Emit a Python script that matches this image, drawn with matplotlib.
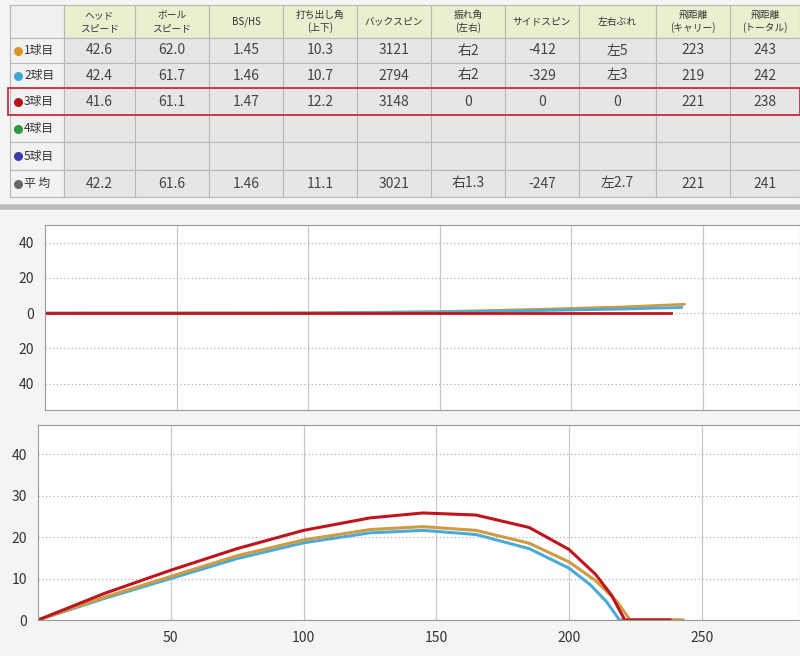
import matplotlib
matplotlib.use("Agg")
import matplotlib.pyplot as plt
from matplotlib.patches import Rectangle

plt.rcParams['font.family'] = ['Noto Sans CJK JP', 'DejaVu Sans']

headers = ["ヘッド\nスピード", "ボール\nスピード", "BS/HS", "打ち出し角\n(上下)", "バックスピン",
           "振れ角\n(左右)", "サイドスピン", "左右ぶれ", "飛距離\n(キャリー)", "飛距離\n(トータル)"]
row_labels = ["1球目", "2球目", "3球目", "4球目", "5球目", "平 均"]
row_colors = ["#d9952b", "#3fa9d6", "#b5121b", "#2a9a3a", "#3a3ab0", "#666666"]
rows = [
    ["42.6", "62.0", "1.45", "10.3", "3121", "右2", "-412", "左5", "223", "243"],
    ["42.4", "61.7", "1.46", "10.7", "2794", "右2", "-329", "左3", "219", "242"],
    ["41.6", "61.1", "1.47", "12.2", "3148", "0", "0", "0", "221", "238"],
    [""] * 10,
    [""] * 10,
    ["42.2", "61.6", "1.46", "11.1", "3021", "右1.3", "-247", "左2.7", "221", "241"],
]

# side trajectory (distance, lateral)
side_x = {"1": [0, 100, 150, 190, 220, 243], "2": [0, 100, 150, 190, 220, 242], "3": [0, 100, 150, 200, 238]}
side_y = {"1": [0, 0.1, 0.8, 2.2, 3.5, 5.0], "2": [0, 0.1, 0.6, 1.5, 2.3, 3.2], "3": [0, 0, 0, 0, 0]}
# height trajectory (distance, height)
h_x = {
    "1": [0, 25, 50, 75, 100, 125, 145, 165, 185, 200, 210, 218, 223, 243],
    "2": [0, 25, 50, 75, 100, 125, 145, 165, 185, 200, 208, 214, 219, 242],
    "3": [0, 25, 50, 75, 100, 125, 145, 165, 185, 200, 210, 216, 221, 238],
}
h_y = {
    "1": [0, 5.5, 10.5, 15.5, 19.3, 21.8, 22.5, 21.6, 18.5, 14.0, 9.5, 4.5, 0, 0],
    "2": [0, 5.2, 10.0, 14.8, 18.6, 21.0, 21.6, 20.6, 17.2, 12.5, 8.5, 4.5, 0, 0],
    "3": [0, 6.4, 12.0, 17.2, 21.6, 24.6, 25.8, 25.3, 22.3, 17.0, 11.0, 6.0, 0, 0],
}
line_colors = {"1": "#d09a40", "2": "#4aaad8", "3": "#c0141c"}

W, H = 800, 656
fig = plt.figure(figsize=(8, 6.56), dpi=100)
fig.patch.set_facecolor("#f4f4f4")

# ---- table ----
tax = fig.add_axes([0, 0, 1, 1])
tax.set_xlim(0, W); tax.set_ylim(H, 0); tax.axis("off")
col_edges = [10, 64, 135, 209, 283, 357, 431, 505, 579, 656, 730, 800]
row_edges = [5, 38, 63, 88, 115, 142, 170, 197]
for r in range(7):
    for c in range(11):
        x0, x1 = col_edges[c], col_edges[c + 1]
        y0, y1 = row_edges[r], row_edges[r + 1]
        if r == 0:
            fc = "#f0f0f0" if c == 0 else "#e9efcf"
        else:
            fc = "#f2f2f2" if c == 0 else "#e6e6e6"
        tax.add_patch(Rectangle((x0, y0), x1 - x0, y1 - y0, facecolor=fc, edgecolor="#b8b8b8", lw=0.8))
for c, h in enumerate(headers):
    xc = (col_edges[c + 1] + col_edges[c + 2]) / 2
    tax.text(xc, (row_edges[0] + row_edges[1]) / 2, h, ha="center", va="center", fontsize=7, color="#333333", linespacing=1.3)
for r, lab in enumerate(row_labels):
    yc = (row_edges[r + 1] + row_edges[r + 2]) / 2
    tax.scatter([18], [yc], s=30, color=row_colors[r], zorder=3)
    tax.text(24, yc, lab, ha="left", va="center", fontsize=8.5, color="#333333")
    for c, v in enumerate(rows[r]):
        xc = (col_edges[c + 1] + col_edges[c + 2]) / 2
        tax.text(xc, yc, v, ha="center", va="center", fontsize=10, color="#444444")
tax.add_patch(Rectangle((8, row_edges[3]), 792, row_edges[4] - row_edges[3], facecolor="none", edgecolor="#c8303a", lw=1.3, zorder=4))
tax.plot([0, 800], [207, 207], color="#bbbbbb", lw=4)

def setup(ax, ylim, yticks, ylabels):
    ax.set_facecolor("white")
    ax.set_xlim(0, 287)
    ax.set_ylim(*ylim)
    ax.set_xticks([50, 100, 150, 200, 250])
    ax.set_yticks(yticks)
    ax.set_yticklabels(ylabels)
    ax.grid(axis="x", color="#c8c8c8", lw=0.9)
    ax.grid(axis="y", color="#b0b0b0", lw=0.9, ls=(0, (1, 2)))
    for s in ax.spines.values():
        s.set_color("#999999")
    ax.tick_params(length=0, labelsize=10, colors="#333333", pad=8)

ax1 = fig.add_axes([45 / W, 1 - 410 / H, 755 / W, 185 / H])
setup(ax1, (-55, 50), [-40, -20, 0, 20, 40], ["40", "20", "0", "20", "40"])
ax1.set_xticklabels([])
for k in ["1", "2", "3"]:
    ax1.plot(side_x[k], side_y[k], color=line_colors[k], lw=2)

ax2 = fig.add_axes([38 / W, 1 - 620 / H, 762 / W, 195 / H])
setup(ax2, (0, 47), [0, 10, 20, 30, 40], ["0", "10", "20", "30", "40"])
for k in ["2", "1", "3"]:
    ax2.plot(h_x[k], h_y[k], color=line_colors[k], lw=2.2)

fig.savefig("out.png", dpi=100, facecolor=fig.get_facecolor())
